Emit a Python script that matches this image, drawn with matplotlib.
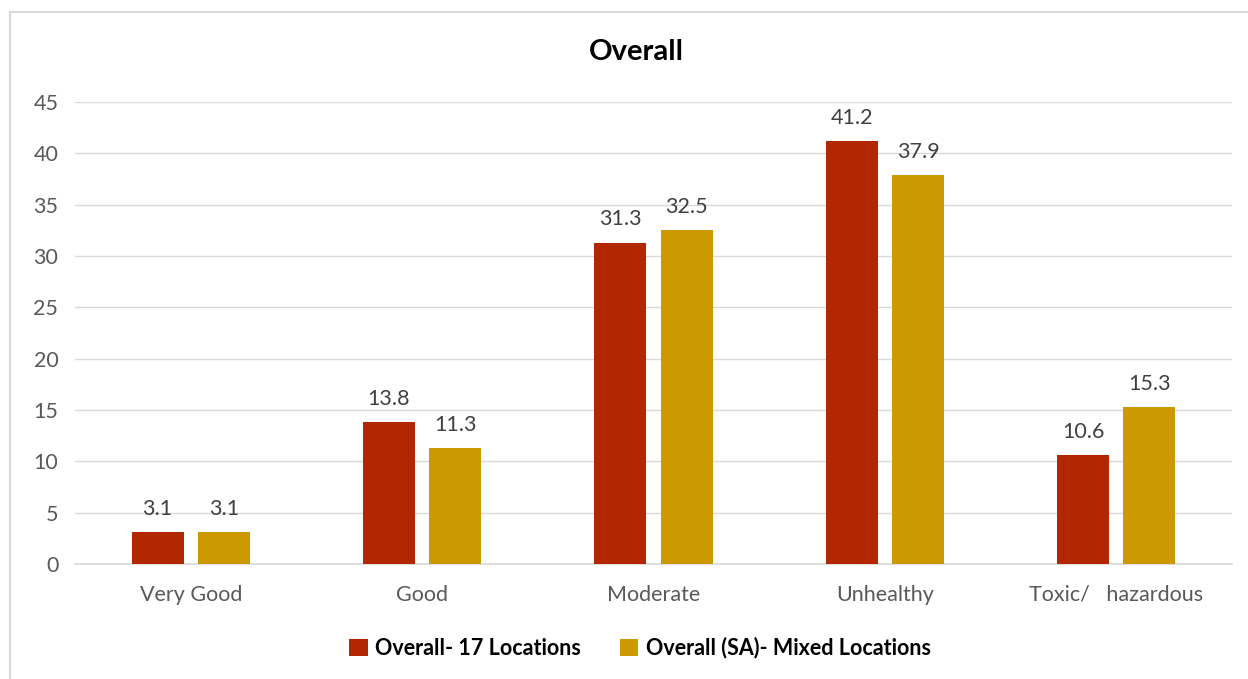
import matplotlib.pyplot as plt
import numpy as np
from matplotlib.patches import Rectangle

categories = ["Very Good", "Good", "Moderate", "Unhealthy", "Toxic/   hazardous"]
series_names = ["Overall- 17 Locations", "Overall (SA)- Mixed Locations"]
overall_17 = [3.1, 13.8, 31.3, 41.2, 10.6]
overall_sa = [3.1, 11.3, 32.5, 37.9, 15.3]
colors = ["#B22600", "#CC9A00"]
yticks = [0, 5, 10, 15, 20, 25, 30, 35, 40, 45]

plt.rcParams['font.family'] = ['Lato', 'DejaVu Sans']

fig = plt.figure(figsize=(12.48, 6.79), dpi=100)
fig.patches.append(Rectangle((10/1248, -0.1), 1.2, 1 - 12/679 + 0.1, transform=fig.transFigure,
                             fill=False, edgecolor="#D9D9D9", linewidth=1.5))
ax = fig.add_axes([75/1248, 1 - 564/679, (1232 - 75)/1248, (564 - 102)/679])

x = np.arange(len(categories))
w = 0.225
off = 0.143
for vals, c, o, name in [(overall_17, colors[0], -off, series_names[0]),
                         (overall_sa, colors[1], off, series_names[1])]:
    bars = ax.bar(x + o, vals, w, color=c, label=name, zorder=3)
    for b, v in zip(bars, vals):
        ax.text(b.get_x() + b.get_width()/2, v + 1.3, f"{v:.1f}", ha="center", va="bottom",
                fontsize=15.5, color="#404040")

ax.set_xlim(-0.5, len(categories) - 0.5)
ax.set_ylim(0, 45)
ax.set_yticks(yticks)
ax.set_xticks(x)
ax.set_xticklabels(categories)
ax.tick_params(axis="both", length=0, labelsize=15.5, labelcolor="#595959")
ax.tick_params(axis="y", pad=12)
ax.tick_params(axis="x", pad=15)
ax.grid(axis="y", color="#D9D9D9", linewidth=1, zorder=0)
for s in ["top", "right", "left"]:
    ax.spines[s].set_visible(False)
ax.spines["bottom"].set_color("#D9D9D9")
ax.spines["bottom"].set_linewidth(1.2)

fig.text(636/1248, 1 - 52/679, "Overall", ha="center", va="center", fontsize=21,
         fontweight="bold", color="black")

leg = fig.legend(loc="center", bbox_to_anchor=(640/1248, 1 - 648/679), ncol=2, frameon=False,
                 prop={"size": 15.5, "weight": "bold"}, handlelength=0.85, handleheight=0.85,
                 handletextpad=0.35, columnspacing=1.8)

fig.savefig("out.png", dpi=100)
